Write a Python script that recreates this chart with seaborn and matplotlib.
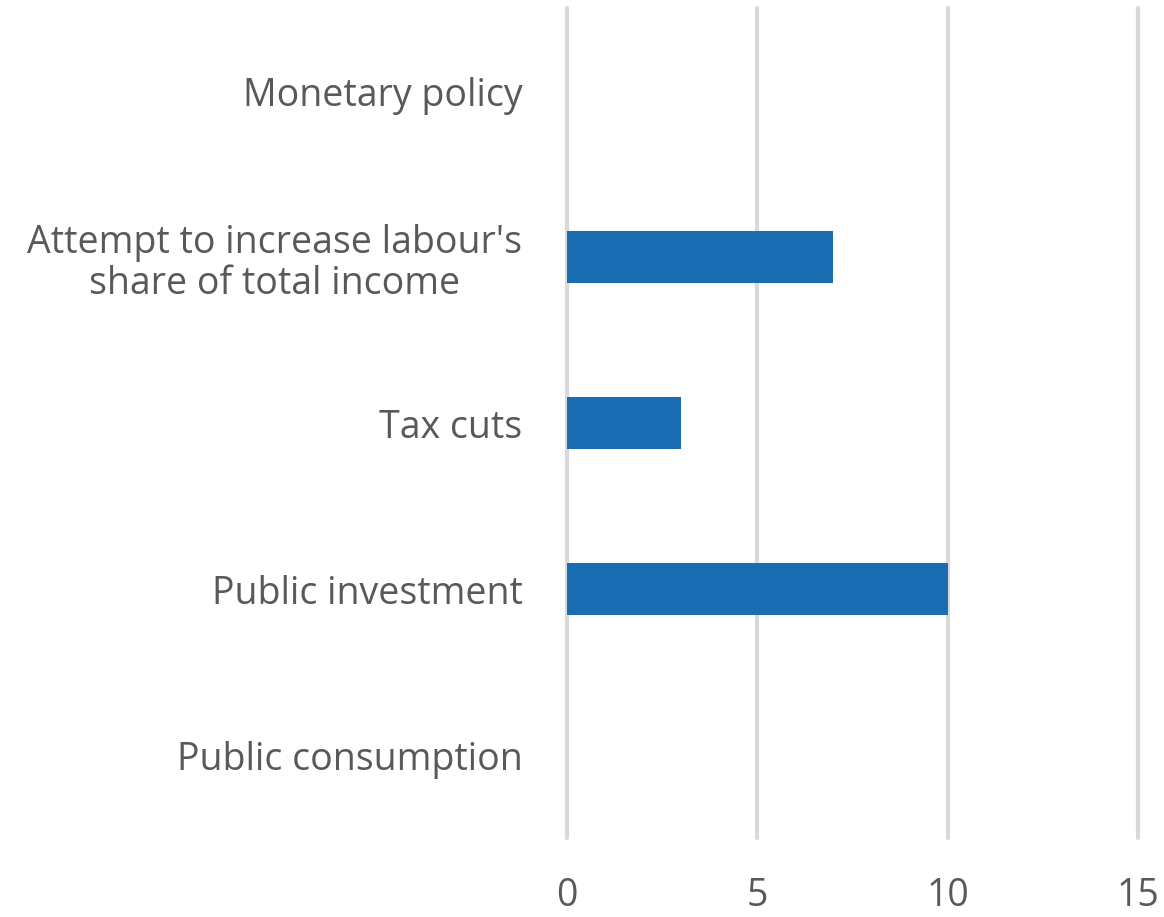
import matplotlib
matplotlib.use("Agg")
import matplotlib.pyplot as plt
import seaborn as sns
import pandas as pd

categories = [
    "Monetary policy",
    "Attempt to increase labour's\nshare of total income",
    "Tax cuts",
    "Public investment",
    "Public consumption",
]
values = [0, 7, 3, 10, 0]
x_ticks = [0, 5, 10, 15]

df = pd.DataFrame({"measure": categories, "count": values})

sns.set_theme(style="white")
plt.rcParams["font.family"] = ["Open Sans", "DejaVu Sans"]

fig = plt.figure(figsize=(11.64, 9.17), dpi=100)
ax = fig.add_axes([0.487, 0.086, 0.4907, 0.905])

sns.barplot(data=df, y="measure", x="count", orient="h", color="#1b6db3",
            saturation=1, width=0.31, linewidth=0, ax=ax, zorder=3)

ax.set_xlim(0, 15)
ax.set_ylim(4.5, -0.5)
ax.set_xticks(x_ticks)
ax.set_xlabel("")
ax.set_ylabel("")
for s in ax.spines.values():
    s.set_visible(False)
ax.grid(axis="x", color="#d9d9d9", linewidth=3, zorder=0)
ax.grid(axis="y", visible=False)
for gl in ax.get_xgridlines():
    gl.set_clip_on(False)
ax.tick_params(axis="x", length=0, pad=28, labelsize=27, labelcolor="#595959")
ax.tick_params(axis="y", length=0, pad=32, labelsize=27, labelcolor="#595959")
for lab in ax.get_yticklabels():
    lab.set_multialignment("center")
    lab.set_linespacing(1.12)

fig.savefig("out.png", dpi=100)
